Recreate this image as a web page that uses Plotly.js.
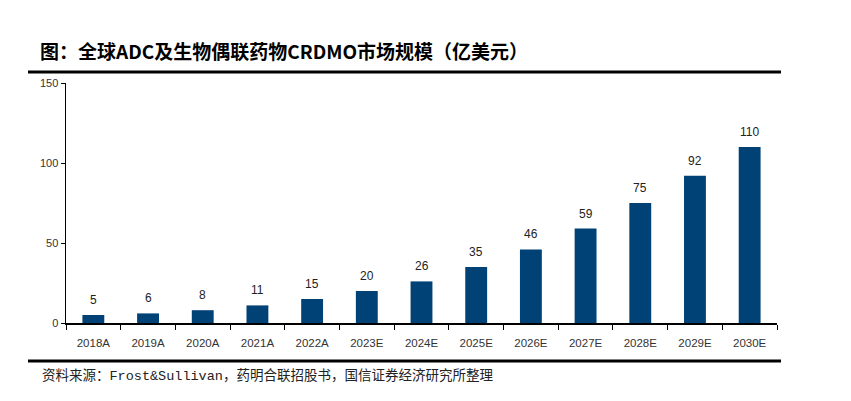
<!DOCTYPE html>
<html>
<head>
<meta charset="utf-8">
<script src="https://cdn.plot.ly/plotly-3.0.1.min.js"></script>
<style>
  html, body { margin: 0; padding: 0; background: #fff; }
  #chart { width: 851px; height: 401px; }
</style>
</head>
<body>
<div id="chart"></div>
<script>
// 全球ADC及生物偶联药物CRDMO市场规模（亿美元）
const years = ['2018A', '2019A', '2020A', '2021A', '2022A', '2023E', '2024E',
               '2025E', '2026E', '2027E', '2028E', '2029E', '2030E'];
const market = [5, 6, 8, 11, 15, 20, 26, 35, 46, 59, 75, 92, 110];

const titleText = '图：全球ADC及生物偶联药物CRDMO市场规模（亿美元）';
const sourceText = '资料来源：Frost&Sullivan，药明合联招股书，国信证券经济研究所整理';

const barColor = '#004276';

// value labels above each bar
const labels = years.map((y, i) => ({
  x: y, y: market[i], xref: 'x', yref: 'y',
  text: String(market[i]), showarrow: false,
  yanchor: 'bottom', yshift: 6,
  font: {family: 'Liberation Sans, Arial', size: 12, color: '#222'}
}));

const layout = {
  width: 851, height: 401,
  margin: {l: 66, r: 74, t: 83, b: 78},
  paper_bgcolor: '#fff', plot_bgcolor: '#fff',
  showlegend: false,
  bargap: 0.6,
  xaxis: {
    type: 'category',
    showline: true, linecolor: '#000', linewidth: 2,
    ticks: 'outside', tickson: 'boundaries', ticklen: 5, tickcolor: '#000', tickwidth: 1,
    ticklabelstandoff: 8,
    tickfont: {family: 'Liberation Sans, Arial', size: 11.5, color: '#333'},
    showgrid: false, zeroline: false, fixedrange: true
  },
  yaxis: {
    range: [0, 150], dtick: 50,
    showline: true, linecolor: '#000', linewidth: 1.5,
    ticks: 'outside', ticklen: 4, tickcolor: '#000', tickwidth: 1,
    tickfont: {family: 'Liberation Sans, Arial', size: 11, color: '#333'},
    showgrid: false, zeroline: false, fixedrange: true
  },
  shapes: [
    {type: 'line', xref: 'paper', yref: 'paper',
     x0: (28 - 66) / 711, x1: (781 - 66) / 711, y0: (323 - 72) / 240, y1: (323 - 72) / 240,
     line: {color: '#000', width: 3}},
    {type: 'line', xref: 'paper', yref: 'paper',
     x0: (28 - 66) / 711, x1: (781 - 66) / 711, y0: (323 - 361) / 240, y1: (323 - 361) / 240,
     line: {color: '#000', width: 3}}
  ],
  annotations: labels.concat([
    {text: '<b>' + titleText + '</b>', xref: 'paper', yref: 'paper',
     x: (38 - 66) / 711, y: (323 - 50) / 240, xanchor: 'left', yanchor: 'middle',
     showarrow: false,
     font: {family: 'Noto Sans CJK SC', size: 19, color: '#000'}},
    {text: sourceText, xref: 'paper', yref: 'paper',
     x: (40 - 66) / 711, y: (323 - 376) / 240, xanchor: 'left', yanchor: 'middle',
     showarrow: false,
     font: {family: 'Liberation Mono, Noto Sans CJK SC', size: 13.5, color: '#222'}}
  ])
};

Plotly.newPlot('chart', [{
  type: 'bar', x: years, y: market,
  marker: {color: barColor},
  hoverinfo: 'x+y'
}], layout, {staticPlot: true});
</script>
</body>
</html>
